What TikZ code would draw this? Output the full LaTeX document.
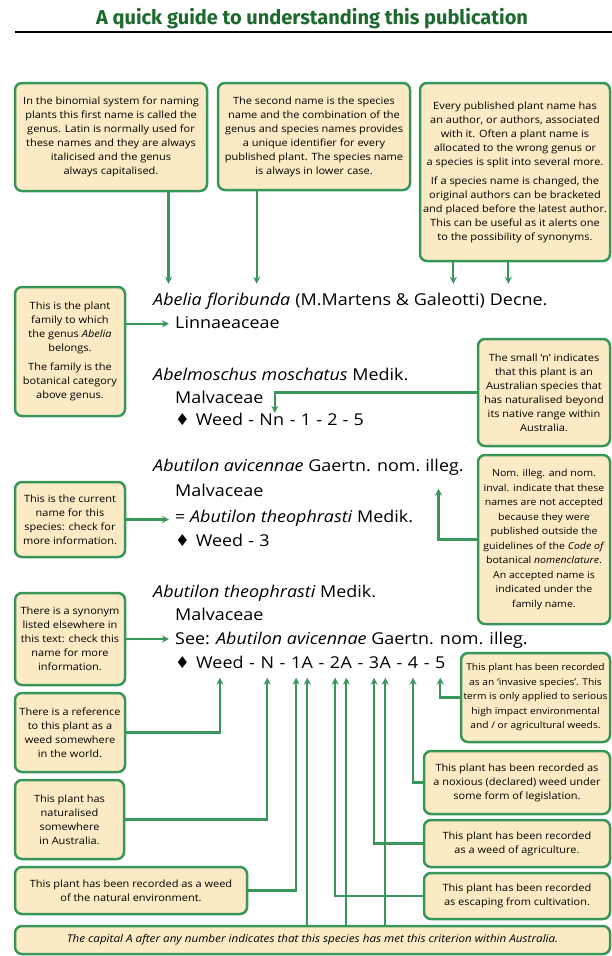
\documentclass[tikz,border=0pt]{standalone}
\usepackage{fontspec}
\usetikzlibrary{arrows.meta,calc}
\newfontfamily\entryfont{Open Sans}[FakeStretch=1.1]
\newfontfamily\boxfont{Open Sans}[FakeStretch=1.1]
\newfontfamily\titlefont{Fira Sans}
\newfontfamily\symfont{DejaVu Sans}
\newcommand\sepdash{\hspace{5.2pt}-\hspace{5.2pt}\null}
\newcommand\diam{{\symfont ♦}\hspace{6pt}\null}
\definecolor{lgreen}{RGB}{56,150,90}
\definecolor{cream}{RGB}{252,234,196}
\definecolor{tgreen}{RGB}{30,105,45}
\tikzset{
  bx/.style={draw=lgreen, fill=cream, line width=2.5pt, rounded corners=7pt, align=center, inner sep=0pt,
    font=\boxfont\fontsize{10}{14}\selectfont},
  ent/.style={inner sep=0pt, anchor=base west, font=\entryfont\fontsize{16.3}{19}\selectfont,
    text height=12pt, text depth=3.5pt},
  arr/.style={draw=lgreen, line width=2.2pt, -{Stealth[length=7pt,width=7pt]}},
}
\begin{document}
\begin{tikzpicture}[x=1pt,y=-1pt]
\useasboundingbox (0,0) rectangle (612,956);
% title
\node[font=\titlefont\bfseries\fontsize{20}{22}\selectfont, text=tgreen, inner sep=0pt] (title) at (312,19) {A quick guide to understanding this publication};
\draw[line width=1.6pt] (15,32) -- (612,32);

% ---------- boxes ----------
\node[bx, minimum width=192, minimum height=108] (bA) at (111,137)
 {In the binomial system for naming\\plants this first name is called the\\genus. Latin is normally used for\\these names and they are always\\italicised and the genus\\always capitalised.};
\node[bx, minimum width=192, minimum height=107] (bB) at (314,136.5)
 {The second name is the species\\name and the combination of the\\genus and species names provides\\a unique identifier for every\\published plant. The species name\\is always in lower case.};
\node[bx, minimum width=190, minimum height=178] (bC) at (515,172)
 {Every published plant name has\\an author, or authors, associated\\with it. Often a plant name is\\allocated to the wrong genus or\\a species is split into several more.\\[5pt]If a species name is changed, the\\original authors can be bracketed\\and placed before the latest author.\\This can be useful as it alerts one\\to the possibility of synonyms.};
\node[bx, minimum width=110, minimum height=129] (bD) at (70,351.5)
 {This is the plant\\family to which\\the genus \textit{Abelia}\\belongs.\\[5pt]The family is the\\botanical category\\above genus.};
\node[bx, minimum width=132, minimum height=107] (bE) at (544,392.5)
 {The small ‘n’ indicates\\that this plant is an\\Australian species that\\has naturalised beyond\\its native range within\\Australia.};
\node[bx, minimum width=110, minimum height=75] (bF) at (70,519.5)
 {This is the current\\name for this\\species: check for\\more information.};
\node[bx, minimum width=132, minimum height=169, font=\boxfont\fontsize{9.6}{14.5}\selectfont] (bG) at (544,539.5)
 {Nom. illeg. and nom.\\inval. indicate that these\\names are not accepted\\because they were\\published outside the\\guidelines of the \textit{Code of}\\botanical \textit{nomenclature}.\\An accepted name is\\indicated under the\\family name.};
\node[bx, minimum width=110, minimum height=92] (bH) at (70,639)
 {There is a synonym\\listed elsewhere in\\this text: check this\\name for more\\information.};
\node[bx, minimum width=110, minimum height=79] (bI) at (70,732.5)
 {There is a reference\\to this plant as a\\weed somewhere\\in the world.};
\node[bx, minimum width=149, minimum height=89, font=\boxfont\fontsize{9.3}{14.5}\selectfont] (bJ) at (535.5,697.5)
 {This plant has been recorded\\as an ‘invasive species’. This\\term is only applied to serious\\high impact environmental\\and / or agricultural weeds.};
\node[bx, minimum width=186, minimum height=63] (bK) at (517,782.5)
 {This plant has been recorded as\\a noxious (declared) weed under\\some form of legislation.};
\node[bx, minimum width=186, minimum height=47] (bL) at (517,843.5)
 {This plant has been recorded\\as a weed of agriculture.};
\node[bx, minimum width=186, minimum height=46] (bM) at (517,896)
 {This plant has been recorded\\as escaping from cultivation.};
\node[bx, minimum width=109, minimum height=79] (bN) at (69.5,819.5)
 {This plant has\\naturalised\\somewhere\\in Australia.};
\node[bx, minimum width=232, minimum height=47] (bO) at (131,890.5)
 {This plant has been recorded as a weed\\of the natural environment.};
\node[bx, minimum width=595, minimum height=28, font=\boxfont\fontsize{10.6}{12}\selectfont] (bBot) at (312.5,940)
 {\itshape The capital A after any number indicates that this species has met this criterion within Australia.};

% ---------- entry 1 ----------
\node[ent] (e1g) at (153,305) {\itshape Abelia};
\node[ent] (e1s) at ([xshift=4.9pt]e1g.base east) {\itshape floribunda};
\node[ent] (e1a) at (e1s.base east) {\ (M.Martens \&\ \null};
\node[ent] (e1b) at (e1a.base east) {Galeotti)};
\node[ent] (e1c) at (e1b.base east) {\ Decne.};
\node[ent] (e1f) at (175,328) {Linnaeaceae};
% ---------- entry 2 ----------
\node[ent] (e2) at (153,380) {\itshape Abelmoschus moschatus\/\upshape\ Medik.};
\node[ent] (e2f) at (175,403) {Malvaceae};
\node[ent] (w2a) at (175,425) {\diam Weed\sepdash N};
\node[ent] (w2n) at (w2a.base east) {n};
\node[ent] (w2b) at (w2n.base east) {\sepdash 1\sepdash 2\sepdash 5};
% ---------- entry 3 ----------
\node[ent] (e3a) at (153,471) {\itshape Abutilon avicennae\/\upshape\ Gaertn. nom.\ \null};
\node[ent] (e3b) at (e3a.base east) {illeg.};
\node[ent] (e3f) at (175,496) {Malvaceae};
\node[ent] (e3c) at (175,522) {= \itshape Abutilon theophrasti\/\upshape\ Medik.};
\node[ent] (e3d) at (175,546) {\diam Weed\sepdash 3};
% ---------- entry 4 ----------
\node[ent] (e4) at (153,597) {\itshape Abutilon theophrasti\/\upshape\ Medik.};
\node[ent] (e4f) at (175,620) {Malvaceae};
\node[ent] (e4s) at (175,644) {See: \itshape Abutilon avicennae\/\upshape\ Gaertn. nom. illeg.};
\node[ent] (w4dia) at (175,668) {\diam};
\node[ent] (w4weed) at (w4dia.base east) {Weed};
\node[ent] (w4x1) at (w4weed.base east) {\sepdash};
\node[ent] (w4N) at (w4x1.base east) {N};
\node[ent] (w4x2) at (w4N.base east) {\sepdash};
\node[ent] (w4one) at (w4x2.base east) {1};
\node[ent] (w4oneA) at (w4one.base east) {A};
\node[ent] (w4x3) at (w4oneA.base east) {\sepdash};
\node[ent] (w4two) at (w4x3.base east) {2};
\node[ent] (w4twoA) at (w4two.base east) {A};
\node[ent] (w4x4) at (w4twoA.base east) {\sepdash};
\node[ent] (w4three) at (w4x4.base east) {3};
\node[ent] (w4threeA) at (w4three.base east) {A};
\node[ent] (w4x5) at (w4threeA.base east) {\sepdash};
\node[ent] (w4four) at (w4x5.base east) {4};
\node[ent] (w4x6) at (w4four.base east) {\sepdash};
\node[ent] (w4five) at (w4x6.base east) {5};

% ---------- connector end points ----------
\coordinate (tA) at ([xshift=-9pt,yshift=9pt]e1g.north);
\coordinate (tB) at ([xshift=8pt,yshift=9pt]e1s.north);
\coordinate (tC1) at ([xshift=4pt,yshift=9pt]e1b.north);
\coordinate (tC2) at ([xshift=-8pt,yshift=9pt]e1c.north);
\coordinate (tD) at ([xshift=-6pt]e1f.west);
\coordinate (tE) at ([xshift=-4pt]w2n.north);
\coordinate (tF) at ([xshift=-6pt]e3c.west);
\coordinate (tG) at ([xshift=-6pt,yshift=-14pt]e3b.south);
\coordinate (tH) at ([xshift=-6pt]e4s.west);
\coordinate (tI) at ([yshift=-6pt]w4weed.south);
\coordinate (tN) at ([yshift=-6pt]w4N.south);
\coordinate (t1) at ([yshift=-6pt]w4one.south);
\coordinate (t1A) at ([yshift=-6pt]w4oneA.south);
\coordinate (t2) at ([yshift=-6pt]w4two.south);
\coordinate (t2A) at ([yshift=-6pt]w4twoA.south);
\coordinate (t3) at ([yshift=-6pt]w4three.south);
\coordinate (t3A) at ([yshift=-6pt]w4threeA.south);
\coordinate (t4) at ([yshift=-6pt]w4four.south);
\coordinate (t5) at ([yshift=-6pt]w4five.south);

% ---------- connectors ----------
\draw[arr] (tA |- bA.south) -- (tA);
\draw[arr] (tB |- bB.south) -- (tB);
\draw[arr] (tC1 |- bC.south) -- (tC1);
\draw[arr] (tC2 |- bC.south) -- (tC2);
\draw[arr] (bD.east |- tD) -- (tD);
\draw[arr] (bE.west) -| (tE);
\draw[arr] (bF.east) -- (bF.east -| tF);
\draw[arr] (bG.west) -| (tG);
\draw[arr] (bH.east) -- (bH.east -| tH);
\draw[arr] (bI.east) -| (tI);
\draw[arr] (bN.east) -| (tN);
\draw[arr] (bO.east) -| (t1);
\draw[arr] (bBot.north -| t1A) -- (t1A);
\draw[arr] (bM.west) -| (t2);
\draw[arr] (bBot.north -| t2A) -- (t2A);
\draw[arr] (bL.west) -| (t3);
\draw[arr] (bBot.north -| t3A) -- (t3A);
\draw[arr] (bK.west) -| (t4);
\draw[arr] (bJ.west) -| (t5);
\end{tikzpicture}
\end{document}
